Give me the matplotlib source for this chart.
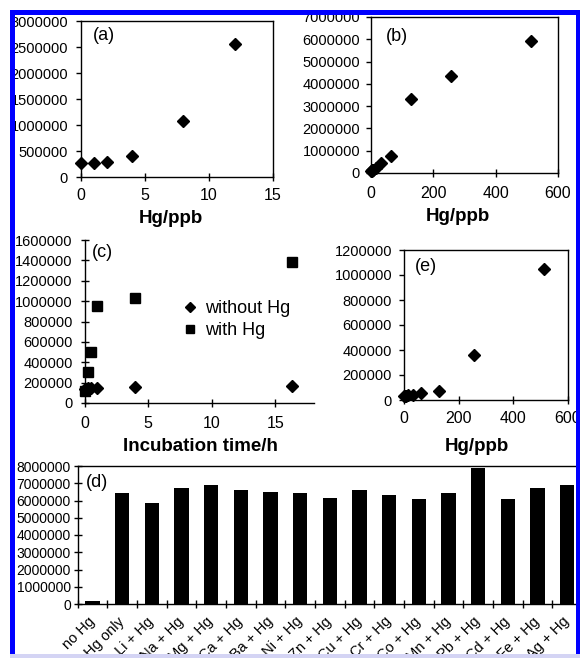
import matplotlib
matplotlib.use('Agg')
import matplotlib.pyplot as plt
from matplotlib.patches import Rectangle
from matplotlib.ticker import StrMethodFormatter, FixedLocator

plt.rcParams['font.family'] = ['Liberation Sans', 'DejaVu Sans']

W, H = 581, 658

# (a) signal vs Hg, low range
a_hg = [0, 1, 2, 4, 8, 12]
a_signal = [260000, 275000, 290000, 400000, 1080000, 2550000]

# (b) signal vs Hg, wide range
b_hg = [0, 2, 4, 8, 16, 32, 64, 128, 256, 512]
b_signal = [100000, 110000, 120000, 150000, 230000, 450000, 760000,
            3320000, 4370000, 5920000]

# (c) incubation time course
c_time = [0, 0.25, 0.5, 1, 4, 16.3]
c_without = [140000, 145000, 150000, 150000, 155000, 170000]
c_with = [120000, 300000, 500000, 950000, 1030000, 1380000]

# (e) second dose response
e_hg = [0, 2, 4, 8, 16, 32, 64, 128, 256, 512]
e_signal = [30000, 30000, 32000, 34000, 38000, 43000, 53000, 75000,
            360000, 1048000]

# (d) selectivity against other metal ions
d_labels = ['no Hg', 'Hg only', 'Li + Hg', 'Na + Hg', 'Mg + Hg', 'Ca + Hg',
            'Ba + Hg', 'Ni + Hg', 'Zn + Hg', 'Cu + Hg', 'Cr + Hg', 'Co + Hg',
            'Mn + Hg', 'Pb + Hg', 'Cd + Hg', 'Fe + Hg', 'Ag + Hg']
d_signal = [190000, 6440000, 5840000, 6720000, 6880000, 6630000, 6510000,
            6420000, 6170000, 6580000, 6330000, 6100000, 6410000, 7900000,
            6100000, 6740000, 6910000]

YTICK_FS = 10.5
XTICK_FS = 11.5
LABEL_FS = 13.5
PANEL_FS = 13


def px_axes(fig, left, top, right, bottom):
    """Add axes from a pixel box (origin top-left)."""
    return fig.add_axes([left / W, 1 - bottom / H, (right - left) / W, (bottom - top) / H])


def style_axes(ax, box=True, ydir='out', xpad=5.25, ypad=5.5):
    for s in ax.spines.values():
        s.set_linewidth(1.0)
    if not box:
        ax.spines['top'].set_visible(False)
        ax.spines['right'].set_visible(False)
    ax.yaxis.set_major_formatter(StrMethodFormatter('{x:.0f}'))
    ax.tick_params(axis='y', direction=ydir, length=3.5 if ydir == 'out' else 6,
                   width=1.0, labelsize=YTICK_FS, pad=ypad)
    ax.tick_params(axis='x', direction='inout', length=5.5, width=1.0,
                   labelsize=XTICK_FS, pad=xpad)


def place_xlabel(ax, text, x, y):
    ax.set_xlabel(text, fontsize=LABEL_FS, fontweight='bold')
    ax.xaxis.set_label_coords(x, y)
    ax.xaxis.label.set_va('center')


fig = plt.figure(figsize=(W / 100, H / 100), dpi=100)

# ---- (a) ----
ax_a = px_axes(fig, 81, 21, 273, 177)
ax_a.plot(a_hg, a_signal, 'D', color='black', ms=6.5, clip_on=False)
ax_a.set_xlim(0, 15)
ax_a.set_ylim(0, 3000000)
ax_a.set_xticks([0, 5, 10, 15])
ax_a.set_yticks(range(0, 3000001, 500000))
style_axes(ax_a, xpad=5.25, ypad=5.8)
ax_a.text(0.062, 0.91, '(a)', transform=ax_a.transAxes, fontsize=PANEL_FS, va='center')
place_xlabel(ax_a, 'Hg/ppb', 0.47, -0.263)

# ---- (b) ----
ax_b = px_axes(fig, 371, 17, 558, 173)
ax_b.plot(b_hg, b_signal, 'D', color='black', ms=6.5, clip_on=False)
ax_b.set_xlim(0, 600)
ax_b.set_ylim(0, 7000000)
ax_b.set_xticks([0, 200, 400, 600])
ax_b.set_yticks(range(0, 7000001, 1000000))
style_axes(ax_b, xpad=6.75, ypad=4.4)
ax_b.text(0.08, 0.872, '(b)', transform=ax_b.transAxes, fontsize=PANEL_FS, va='center')
place_xlabel(ax_b, 'Hg/ppb', 0.4626, -0.282)

# ---- (c) ----
ax_c = px_axes(fig, 84.5, 240, 313.6, 403)
ax_c.plot(c_time, c_without, 'D', color='black', ms=6, clip_on=False, label='without Hg')
ax_c.plot(c_time, c_with, 's', color='black', ms=7, clip_on=False, label='with Hg')
ax_c.set_xlim(0, 18)
ax_c.set_ylim(0, 1600000)
ax_c.set_xticks([0, 5, 10, 15])
ax_c.set_yticks(range(0, 1600001, 200000))
style_axes(ax_c, box=False, ydir='inout', xpad=6.4, ypad=5.6)
ax_c.text(0.033, 0.926, '(c)', transform=ax_c.transAxes, fontsize=PANEL_FS, va='center')
ax_c.legend(loc='center left', bbox_to_anchor=(0.431, 0.512), frameon=False,
            fontsize=13, handlelength=0.8, handletextpad=0.4, borderpad=0,
            borderaxespad=0, labelspacing=0.3, markerscale=0.8)
place_xlabel(ax_c, 'Incubation time/h', 0.504, -0.264)

# ---- (e) ----
ax_e = px_axes(fig, 404, 250, 568, 400)
ax_e.plot(e_hg, e_signal, 'D', color='black', ms=6.5, clip_on=False)
ax_e.set_xlim(0, 600)
ax_e.set_ylim(0, 1200000)
ax_e.set_xticks([0, 200, 400, 600])
ax_e.set_yticks(range(0, 1200001, 200000))
style_axes(ax_e, xpad=5.25, ypad=5.1)
ax_e.text(0.067, 0.887, '(e)', transform=ax_e.transAxes, fontsize=PANEL_FS, va='center')
place_xlabel(ax_e, 'Hg/ppb', 0.445, -0.313)

# ---- (d) ----
ax_d = px_axes(fig, 77.7, 466, 582, 604)
pos = [i + 0.5 for i in range(len(d_labels))]
ax_d.bar(pos, d_signal, width=0.48, color='black')
ax_d.set_xlim(0, len(d_labels))
ax_d.set_ylim(0, 8000000)
ax_d.set_yticks(range(0, 8000001, 1000000))
ax_d.xaxis.set_major_locator(FixedLocator(range(len(d_labels) + 1)))
ax_d.xaxis.set_minor_locator(FixedLocator(pos))
ax_d.set_xticklabels([], minor=False)
ax_d.set_xticklabels(d_labels, minor=True, rotation=45, ha='right',
                     rotation_mode='anchor', va='center')
style_axes(ax_d, ydir='inout', ypad=2)
ax_d.spines['right'].set_visible(False)
ax_d.tick_params(axis='y', labelsize=10)
ax_d.tick_params(axis='x', which='minor', length=0, labelsize=10.5, pad=11)
ax_d.text(0.016, 0.884, '(d)', transform=ax_d.transAxes, fontsize=PANEL_FS, va='center')

# ---- page frame (the figure was cropped from a page) ----
def frame_rect(x0, y0, x1, y1, color):
    fig.add_artist(Rectangle((x0 / W, 1 - y1 / H), (x1 - x0) / W, (y1 - y0) / H,
                             transform=fig.transFigure, facecolor=color,
                             edgecolor='none', zorder=100))

frame_rect(0, 0, W, 10, 'white')
frame_rect(0, 0, 10, H, 'white')
frame_rect(580, 0, W, H, 'white')
frame_rect(10, 10, 580, 15, '#0000ff')
frame_rect(10, 10, 15, 655, '#0000ff')
frame_rect(576, 10, 580, 655, '#0000ff')
frame_rect(10, 654, 580, H, '#d4d4f4')

fig.savefig('out.png', dpi=100)
